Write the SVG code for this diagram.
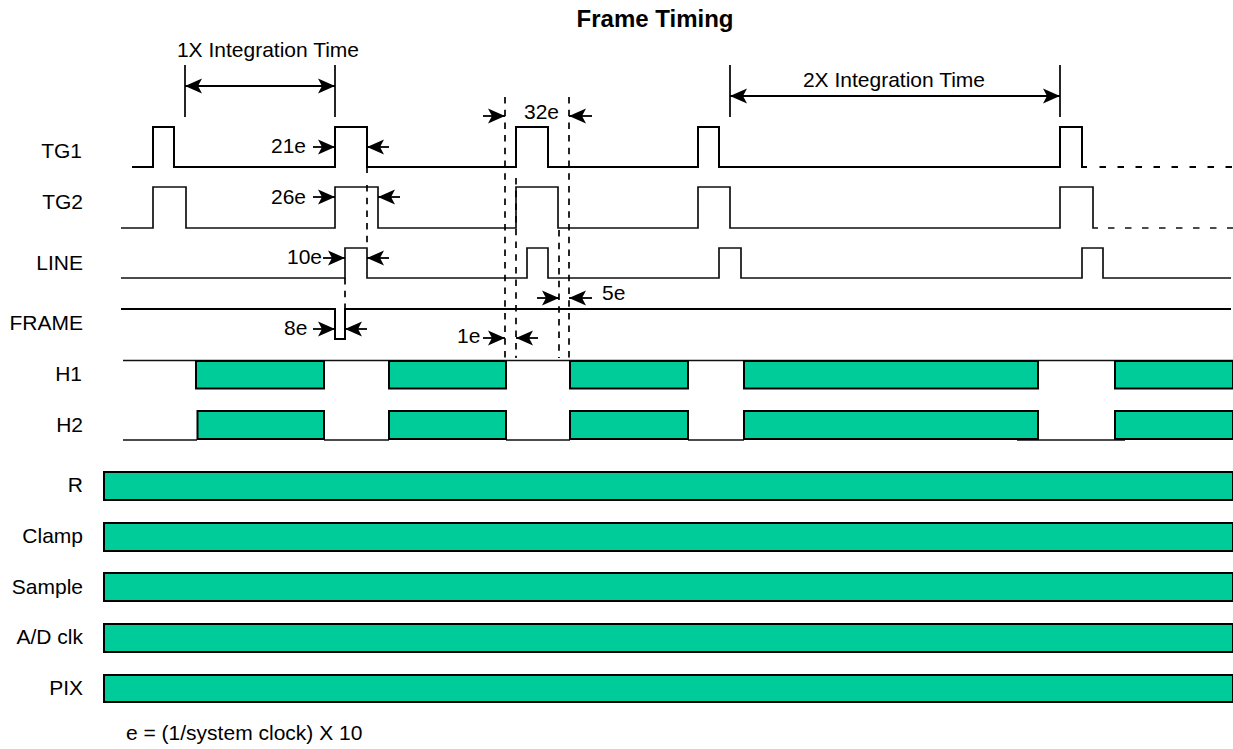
<svg xmlns="http://www.w3.org/2000/svg" width="1233" height="749" viewBox="0 0 1233 749">
<style>
text{font-family:"Liberation Sans",Arial,sans-serif;font-size:21px;fill:#000}
.m{text-anchor:middle}
.e{text-anchor:end}
.sig{fill:none;stroke:#000;stroke-width:2}
.sig2{fill:none;stroke:#111;stroke-width:1.7}
.thin{fill:none;stroke:#000;stroke-width:1.7}
.dash{fill:none;stroke:#000;stroke-width:1.7;stroke-dasharray:6.5 6.2}
.g{fill:#00cc99;stroke:#000;stroke-width:2}
.dim{fill:none;stroke:#000;stroke-width:1.8;marker-end:url(#a)}
.dim2{fill:none;stroke:#000;stroke-width:1.8;marker-start:url(#b);marker-end:url(#a)}
</style>
<defs>
<marker id="a" markerUnits="userSpaceOnUse" markerWidth="18" markerHeight="16" refX="17" refY="8" orient="auto"><path d="M0 0.5L17 8L0 15.5L4 8Z" fill="#000"/></marker>
<marker id="b" markerUnits="userSpaceOnUse" markerWidth="18" markerHeight="16" refX="0" refY="8" orient="auto"><path d="M17 0.5L0 8L17 15.5L13 8Z" fill="#000"/></marker>
</defs>
<rect width="1233" height="749" fill="#fff"/>
<text id="title" x="655" y="27" class="m" style="font-weight:bold;font-size:24px">Frame Timing</text>
<g id="labels">
<text x="268" y="57" class="m">1X Integration Time</text>
<text x="894" y="87" class="m">2X Integration Time</text>
<text x="82" y="158" class="e">TG1</text>
<text x="83" y="209" class="e">TG2</text>
<text x="83" y="270" class="e">LINE</text>
<text x="83" y="330" class="e">FRAME</text>
<text x="82" y="381" class="e">H1</text>
<text x="83" y="432" class="e">H2</text>
<text x="83" y="492" class="e">R</text>
<text x="83" y="543" class="e">Clamp</text>
<text x="83" y="594" class="e">Sample</text>
<text x="83" y="644" class="e">A/D clk</text>
<text x="83" y="695" class="e">PIX</text>
<text x="271" y="153">21e</text>
<text x="271" y="204">26e</text>
<text x="287" y="264">10e</text>
<text x="284" y="335">8e</text>
<text x="524" y="119">32e</text>
<text x="602" y="300">5e</text>
<text x="457" y="343">1e</text>
<text x="126" y="740">e = (1/system clock) X 10</text>
</g>
<g id="TG1"><path class="sig" d="M132 167H153V127H174V167H335V127H367V167H516V127H548V167H698V127H719V167H1060V127H1082V167H1087"/><path class="sig" stroke-dasharray="6.5 11.5" d="M1099.5 167H1233"/></g>
<g id="TG2"><path class="sig2" d="M121 228H153V187H186V228H335V187H378V228H516V187H558V228H698V187H730V228H1060V187H1093V228H1098"/><path class="sig2" stroke-dasharray="6.5 10.5" d="M1108 228H1233"/></g>
<g id="LINE"><path class="sig2" d="M121 278H345V248H367V278H527V248H548V278H719V248H741V278H1082V248H1103V278H1231"/></g>
<g id="FRAME"><path class="sig" d="M121 309H335V339H345V309H1231"/></g>
<g id="H1">
<path class="sig2" d="M123 360.500H1233"/>
<rect class="g" x="196" y="361" width="128" height="27.500"/>
<rect class="g" x="389" y="361" width="117" height="27.500"/>
<rect class="g" x="570" y="361" width="118" height="27.500"/>
<rect class="g" x="744" y="361" width="294" height="27.500"/>
<rect class="g" x="1115" y="361" width="118" height="27.500"/>
</g>
<g id="H2">
<path class="sig2" d="M123 440H197M324 440H389M506 440H570M688 440H744M1017 440H1125"/>
<rect class="g" x="197.500" y="411" width="126.500" height="28"/>
<rect class="g" x="389" y="411" width="117" height="28"/>
<rect class="g" x="570" y="411" width="118" height="28"/>
<rect class="g" x="744" y="411" width="294" height="28"/>
<rect class="g" x="1115" y="411" width="118" height="28"/>
</g>
<g id="R"><rect class="g" x="104" y="472" width="1129" height="28"/></g>
<g id="Clamp"><rect class="g" x="104" y="523" width="1129" height="28"/></g>
<g id="Sample"><rect class="g" x="104" y="573" width="1129" height="28"/></g>
<g id="AD"><rect class="g" x="104" y="624" width="1129" height="28"/></g>
<g id="PIX"><rect class="g" x="104" y="675" width="1129" height="27"/></g>
<g id="connectors">
<path class="thin" d="M185 65V117M335 65V117M730 65V117M1060 65V117"/>
<path class="dim2" d="M185 86H335"/>
<path class="dim2" d="M730 96H1060"/>
<path class="dash" d="M505 97V361M569 97V361M516 178V358M559 230V358"/>
<path class="thin" d="M367 167V173"/>
<path class="dash" d="M367 185V248M345 278V309"/>
<path class="dim" d="M313 147H335"/>
<path class="dim" d="M389 147H367"/>
<path class="dim" d="M313 197H335"/>
<path class="dim" d="M400 197H378"/>
<path class="dim" d="M323 258H345"/>
<path class="dim" d="M389 258H367"/>
<path class="dim" d="M313 329H335"/>
<path class="dim" d="M367 329H345"/>
<path class="dim" d="M483 116H505"/>
<path class="dim" d="M592 116H569"/>
<path class="dim" d="M537 298H559"/>
<path class="dim" d="M592 298H569"/>
<path class="dim" d="M483 338H505"/>
<path class="dim" d="M538 338H516"/>
</g>
</svg>
